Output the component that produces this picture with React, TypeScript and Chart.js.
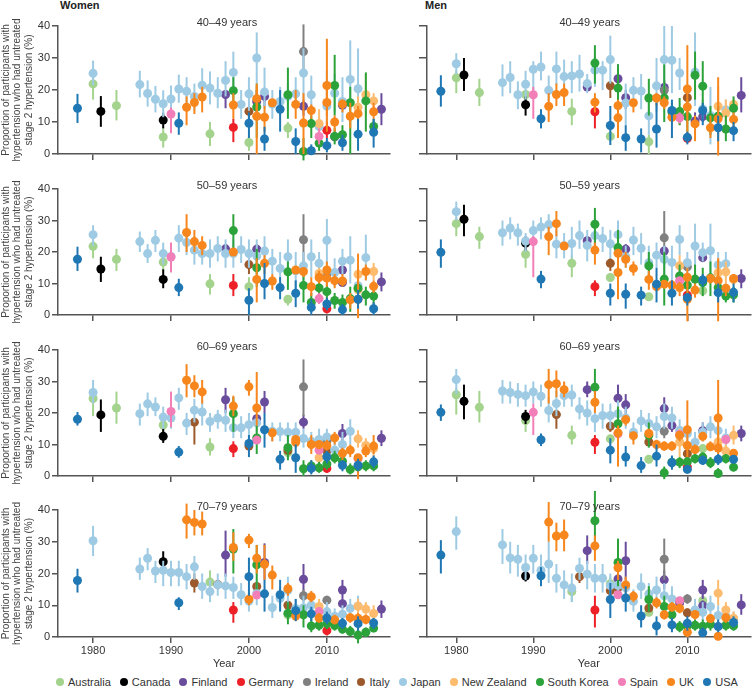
import React, { useEffect, useRef } from 'react';
import { Chart, registerables } from 'chart.js';
Chart.register(...registerables);

type Row = [string, number, number, number, number]; // country, year, value, lower, upper

const COUNTRIES = ['Australia', 'Canada', 'Finland', 'Germany', 'Ireland', 'Italy', 'Japan', 'New Zealand', 'South Korea', 'Spain', 'UK', 'USA'];
const CODES = ['AU', 'CA', 'FI', 'DE', 'IE', 'IT', 'JP', 'NZ', 'KR', 'ES', 'UK', 'US'];
const COLORS = ['#a4d38e', '#000000', '#6a4c9c', '#ee2027', '#808080', '#9c5a2c', '#9ecbe3', '#fdbb6e', '#2ca33a', '#f27fb8', '#f7861d', '#1f77b4'];
const Y_TICKS = [0, 10, 20, 30, 40];
const X_TICKS = [1980, 1990, 2000, 2010];
const AGE_GROUPS = ['40–49 years', '50–59 years', '60–69 years', '70–79 years'];
const Y_TITLE = ['Proportion of participants with', 'hypertension who had untreated', 'stage 2 hypertension (%)'];

const W40: Row[] = [
  ['US',1978,14.3,9.7,18.8],['JP',1980,25.2,21.5,29.2],['AU',1980,21.9,17,24],['CA',1981,13.3,8.5,18.1],['AU',1983,15.1,10.5,20],
  ['JP',1986,21.7,17.7,26],['JP',1987,18.9,14.8,23],['JP',1988,17.1,13,21.3],['JP',1989,15.7,11.5,19.9],['CA',1989,10.6,8,12.9],
  ['AU',1989,5.3,2,8],['JP',1990,17.2,13,21.4],['ES',1990,12.5,6.5,14.5],['US',1991,9.6,6,13],['JP',1991,20.3,16,24.8],
  ['JP',1992,19.6,15,24],['UK',1992,14.6,9,18],['JP',1993,18,13.6,22],['UK',1993,16.1,12.5,19],['JP',1994,21.5,16.7,26.8],
  ['UK',1994,17.8,13,21],['JP',1995,20.6,15.5,25.8],['AU',1995,6.3,2.5,10],['JP',1996,19,14.3,24],['FI',1997,18.6,14.3,20],
  ['JP',1997,23,18,29],['JP',1998,25.5,19,32],['KR',1998,19.8,16,24],['UK',1998,15.3,11,19],['DE',1998,8.3,3.7,11],
  ['JP',1999,15.5,11,20],['JP',2000,18.8,13.5,24],['US',2000,9.6,5,13],['AU',2000,3.6,1,6],['IT',2000,13.3,11,15],
  ['JP',2001,30,22,38],['FI',2001,16.4,13,20],['UK',2001,17.3,13,22],['UK',2001,11.8,0,21],['KR',2001,14.7,5,22],
  ['JP',2002,19.4,14,27],['FI',2002,18,15,20],['UK',2002,11.5,7,15],['US',2002,4.7,1,8.5],['JP',2003,15.6,11,20],
  ['UK',2003,16,15,16.5],['JP',2004,16.4,12,21],['US',2004,14,7,20],['KR',2005,18.5,11,27],['AU',2005,8.1,5,10],
  ['JP',2005,18,14,22],['JP',2006,18.8,14,24],['UK',2006,15.5,11,20],['US',2006,3.9,0,8],['IE',2007,32,25,40.5],
  ['JP',2007,25.3,17,33],['FI',2007,14.9,12,17],['UK',2007,9.7,0,19],['KR',2007,0.8,-2,5],['JP',2008,18.5,13,24.5],
  ['UK',2008,13.6,11,15.5],['KR',2008,9.5,5,12],['US',2008,1,0,3],['NZ',2009,9.5,4,14],['JP',2009,8.6,6,12],
  ['ES',2009,5.5,3,8],['KR',2009,3.4,1,6],['UK',2010,21.4,7,36],['UK',2010,16.1,12,20],['JP',2010,15,10,26],
  ['DE',2010,7.4,5,10],['US',2010,2.6,0.5,5],['KR',2011,21.4,12,31],['JP',2011,19,13,25],['UK',2011,10,7,12],
  ['KR',2011,5.5,3,8],['FI',2011,5.4,4,7],['JP',2012,16.4,10,24],['UK',2012,15.6,13,17],['FI',2012,15.2,14,16.5],
  ['US',2012,3.5,1,6],['KR',2012,6,3,9],['JP',2013,23.3,14,35.5],['KR',2013,16,0,21],['UK',2013,11.8,8,16],
  ['JP',2014,20.4,13,33],['NZ',2014,14.6,11,18],['UK',2014,12.6,10,15],['US',2014,6.2,1,11],['NZ',2015,18.5,12,25],
  ['KR',2015,16.6,7,25.5],['KR',2016,8.6,6,11],['UK',2016,13.2,11,16],['NZ',2016,16.6,14,19],['US',2016,6.8,2,11],
  ['FI',2017,14,9,19],
];

const M40: Row[] = [
  ['US',1978,19.6,14.8,24.6],['JP',1980,28.2,25,31.5],['AU',1980,23.8,19,26],['CA',1981,24.7,19.7,30],['AU',1983,19.2,15,23.5],
  ['JP',1986,22.3,18,28],['JP',1987,23.9,19,29],['JP',1988,18.5,14,22.7],['JP',1989,21.8,17,26],['AU',1989,18.6,16,20],
  ['CA',1989,15.4,12,18],['ES',1990,18.5,11,21],['JP',1990,26.5,20,29],['JP',1991,27.2,23,32],['US',1991,11,8,14],
  ['JP',1992,19.9,16.5,24.5],['UK',1992,14.9,10,19],['JP',1993,26.6,21.5,32],['UK',1993,18.6,15,22],['JP',1994,24.2,19,29.5],
  ['UK',1994,19.2,15,22],['JP',1995,24.4,19,29],['AU',1995,13.3,9,17.3],['JP',1996,25,19.5,31],['FI',1997,20.9,20,22],
  ['JP',1997,22,19,25],['KR',1998,28.4,22,34],['JP',1998,26.2,21,31],['UK',1998,16.2,13,19],['DE',1998,13.2,8,16],
  ['JP',1999,26.2,20,29],['JP',2000,29.5,22,37],['IT',2000,21.3,17.5,22],['US',2000,8.9,2.8,15],['AU',2000,5.5,4,7],
  ['FI',2001,23.5,20,28],['KR',2001,20.6,14,28],['UK',2001,15.1,10,17],['UK',2001,11.3,5,16],['FI',2002,17.6,14,20],
  ['JP',2002,15.9,9,22],['US',2002,5.1,1,9],['UK',2003,16,13,17],['JP',2003,19.9,15,24],['JP',2004,19.7,14,25],
  ['US',2004,4.7,0.5,8],['AU',2005,3.8,0,6],['KR',2005,17.5,12,23.5],['JP',2005,11.9,6,17.5],['UK',2006,17.5,15,19],
  ['JP',2006,21.3,13,30],['US',2006,7.8,2,16],['FI',2007,20.8,18,23],['IE',2007,19.9,17,22.5],['KR',2007,17.5,10,28],
  ['UK',2007,16,14,18],['JP',2007,29.5,20,40],['JP',2008,29.3,19,40],['US',2008,13.6,5,17],['KR',2008,13.1,10,16],
  ['UK',2008,11.5,10,13],['JP',2009,25.3,20,30],['KR',2009,13.3,9,17.5],['NZ',2009,12,9,14],['ES',2009,11.3,9.5,13],
  ['UK',2010,20.3,6,34],['IT',2010,17.6,16,19],['UK',2010,14.7,12,17],['KR',2010,11.7,7,16],['DE',2010,4.9,3.5,6],
  ['US',2010,5.2,3,7],['KR',2011,24.6,17,32],['JP',2011,25.6,15,38],['FI',2011,10.3,8,13],['UK',2011,9.4,4,12],
  ['KR',2012,21.2,15,29],['JP',2012,14.1,11,17],['US',2012,13.6,9,16],['FI',2012,11.7,10,13],['JP',2013,12,3,21],
  ['KR',2013,11.3,6,15],['UK',2013,8.2,5,12],['JP',2014,11.8,6,16],['NZ',2014,14.9,9,21],['KR',2014,11.8,8,15],
  ['US',2014,8.2,4,12],['UK',2014,11,-0.5,24],['NZ',2015,12.8,9,17],['JP',2015,13.8,10,17],['KR',2015,7.8,4,12],
  ['NZ',2016,15.5,13,17],['KR',2016,14.3,10,18],['UK',2016,10.8,8,13],['US',2016,7.3,4,10],['FI',2017,18.3,13,24],
];

const W50: Row[] = [
  ['US',1978,17.7,14,21.7],['JP',1980,25.5,22,28.5],['AU',1980,21.8,18,23],['CA',1981,14.6,10.5,18.5],['AU',1983,17.7,14,21],
  ['JP',1986,23.3,20,26.5],['JP',1987,19.5,16.5,22.5],['JP',1988,23.7,20,27],['JP',1989,19.5,16,23],['AU',1989,16.8,14,19],
  ['CA',1989,11.3,8.5,14.5],['ES',1990,18.4,13.5,23],['JP',1990,18.6,15,22],['US',1991,8.7,6,11.5],['JP',1991,24.4,20,28.5],
  ['UK',1992,26.2,20,32],['JP',1992,23,19,27.5],['UK',1993,23.3,20,27],['JP',1993,20.6,16,25],['UK',1994,22.1,19,25],
  ['JP',1994,19.5,16,23],['JP',1995,19.5,15,24],['AU',1995,9.9,6.5,13],['JP',1996,21.1,17,25],['FI',1997,21,19.5,22.5],
  ['JP',1997,19.5,15,24],['KR',1998,26.8,20,32],['UK',1998,20,19.5,20.5],['JP',1998,19.5,15,24],['DE',1998,9.4,6,13],
  ['JP',1999,20.8,16.5,25],['JP',2000,19.5,15,24],['IT',2000,16,13,17],['AU',2000,9,6,12],['US',2000,4.7,0,8.5],
  ['FI',2001,20.9,19,22.5],['JP',2001,18.7,13,24],['KR',2001,15,9,21],['UK',2001,11.3,4,18],['JP',2002,20.3,15,25],
  ['UK',2002,16.4,13,19],['US',2002,10,5,16.5],['JP',2003,17.1,13,21],['UK',2003,10.8,8,13],['JP',2004,14.8,9,20],
  ['US',2004,8.7,5,12],['JP',2005,18.5,13,24],['KR',2005,13.7,8,17],['AU',2005,5,3,6],['JP',2006,14,8,20],
  ['UK',2006,14.3,13,15.5],['US',2006,6.9,2.5,11],['IE',2007,23.9,16,32],['JP',2007,15.6,11,20],['UK',2007,13.8,12,15],
  ['KR',2007,9.4,4,14],['JP',2008,18.5,12,24],['UK',2008,9,6,12],['KR',2008,4,1,7],['US',2008,2.4,0,5],
  ['JP',2009,16.4,12,20],['NZ',2009,13.2,11,15],['UK',2009,11.9,10,14],['KR',2009,8.6,5,12],['ES',2009,5.2,3.5,7],
  ['JP',2010,23.7,16,30.5],['UK',2010,14.3,12,17],['IE',2010,12.9,11,14.5],['UK',2010,11.7,9,14],['KR',2010,7.4,4.5,10],
  ['US',2010,3.5,1.5,5.5],['DE',2010,2,0.5,3.5],['JP',2011,13.5,9,18],['UK',2011,10.9,8.5,13],['KR',2011,4.6,2,7],
  ['FI',2012,14.3,13,15.5],['JP',2012,17.1,13,21],['UK',2012,10.8,9,13],['FI',2012,10.3,9,11.5],['KR',2012,4,1.5,6.5],
  ['US',2012,1.7,0,3.5],['JP',2013,17.4,10,25],['KR',2013,5.2,1,9],['UK',2013,4.8,2,7],['NZ',2014,12.9,10,15.5],
  ['JP',2014,9.3,6,12],['NZ',2014,8,6,10],['UK',2014,5,-1,19.5],['KR',2014,8.5,6,11],['US',2014,5,2,8],
  ['JP',2015,18.2,11,25.5],['UK',2015,13.8,11,16],['KR',2015,6.4,3,9],['NZ',2016,13.8,11,16.5],['UK',2016,9.1,7,11],
  ['KR',2016,6,3,9],['US',2016,2,0,4],['FI',2017,10.5,7.5,13.5],
];

const M50: Row[] = [
  ['US',1978,19.9,15,24],['JP',1980,32.8,30,36],['AU',1980,29,25,31],['CA',1981,30.4,25,35],['AU',1983,24.9,21,28],
  ['JP',1986,26.1,22,30],['JP',1987,27.6,24,31],['JP',1988,26.1,22,29],['CA',1989,22.8,20.5,25],['JP',1989,23.5,20,26],
  ['AU',1989,19.3,15,22],['ES',1990,23.3,12,25],['JP',1990,26.8,23,30],['JP',1991,27.9,24,31],['US',1991,11.4,8.5,14],
  ['JP',1992,28.7,25,32],['UK',1992,24.9,19,28],['UK',1993,29,25,33],['JP',1993,22.5,18,27],['JP',1994,22,18,26],
  ['UK',1994,21.9,21,22.5],['JP',1995,22.7,18,28],['AU',1995,16.4,12,19],['JP',1996,25.2,21,30],['FI',1997,23.6,22,25],
  ['JP',1997,22.1,17,27],['KR',1998,28.8,22,34],['JP',1998,25.2,20,30],['UK',1998,20.6,16,23],['DE',1998,9,6,11],
  ['JP',1999,24.3,20,28],['JP',2000,22.6,18,27],['IT',2000,16.4,14,18],['AU',2000,11.9,10.5,13],['US',2000,6.9,3,10],
  ['JP',2001,25.5,20,30],['KR',2001,21.4,15,27],['UK',2001,19.6,17,21],['UK',2001,13.5,5,18],['FI',2002,20.9,19,22.5],
  ['JP',2002,18.5,15,22],['UK',2002,17.7,15,20],['US',2002,6.6,2,10],['JP',2003,23.8,19,28],['UK',2003,14.8,12.5,17],
  ['JP',2004,21.2,16,26],['US',2004,6.3,3,9],['JP',2005,16.6,12,22],['KR',2005,15.6,11,20],['UK',2005,11.3,8,14],
  ['AU',2005,5.8,4.5,7],['JP',2006,19,15,23],['US',2006,9.8,4,15],['UK',2006,9,7.5,10.5],['IE',2007,24.5,16,33],
  ['FI',2007,20.3,18.5,22],['JP',2007,17.7,13,22],['KR',2007,11.4,3,20],['UK',2007,9.8,8.5,11],['JP',2008,16.7,11,22],
  ['UK',2008,9.5,8,11],['US',2008,6.9,3,11],['JP',2009,24,19,28.5],['NZ',2009,15.6,8,19],['KR',2009,12.4,8,16],
  ['ES',2009,10.9,9,12],['UK',2009,8.7,6,10.5],['JP',2010,16.6,13,20],['IE',2010,15.3,14,16.5],['UK',2010,12,9,15],
  ['KR',2010,9.5,6,13],['DE',2010,6.3,5,8],['UK',2010,5,-2,10],['US',2010,5.5,3,7],['JP',2011,21.9,15,29],
  ['KR',2011,11.4,7,16],['UK',2011,7.9,5.5,10],['JP',2012,19.8,17,23],['FI',2012,18.2,17,19.5],['US',2012,11.1,9,13],
  ['KR',2012,10.3,6,15],['AU',2012,7.7,6,9],['JP',2013,20.4,13,29],['KR',2013,11.8,6,17],['UK',2013,11.6,10,13],
  ['JP',2014,15.9,12,20],['NZ',2014,13.4,9,18],['UK',2014,10.9,-2,18],['KR',2014,8.7,6,11],['US',2014,7.1,4,10],
  ['JP',2015,16.3,12,20],['NZ',2015,13.7,10,17],['UK',2015,8.5,6,10],['KR',2015,6,4,8],['NZ',2016,11.3,9.5,13],
  ['UK',2016,11.6,10,13],['US',2016,7.2,4,10],['KR',2016,6.4,4,9],['FI',2017,11.6,8.5,14.5],
];

const W60: Row[] = [
  ['US',1978,18,16,20.3],['JP',1980,26.5,23,30.5],['AU',1980,24.6,19,27],['CA',1981,19.4,14,24.3],['AU',1983,21.6,16.6,26.8],
  ['JP',1986,19.8,16,23],['JP',1987,22.9,19,26.5],['JP',1988,21.9,19,25],['JP',1989,18.7,15,22],['AU',1989,16.2,14,18],
  ['CA',1989,12.6,10.5,15],['ES',1990,20.5,15.5,26.8],['JP',1990,18.4,15,21],['US',1991,7.6,5.8,9.5],['JP',1991,24.8,21,28],
  ['UK',1992,30.4,25,35.5],['JP',1992,16.8,13,20],['UK',1993,28.6,25,32],['JP',1993,20.9,17,24.5],['IT',1993,17.1,10,18],
  ['UK',1994,26.7,23,30.5],['JP',1994,20.3,16,24],['JP',1995,17.3,14,20],['AU',1995,9.2,6.5,12],['JP',1996,18.4,15,21],
  ['FI',1997,24.2,20,28],['JP',1997,17.7,14,21],['UK',1998,22.2,19,25.5],['KR',1998,19.8,14,25],['JP',1998,15.3,12,19],
  ['DE',1998,8.7,6,11],['JP',1999,15.3,12,19],['UK',2000,28.3,25.5,30.5],['JP',2000,16.3,12,20],['US',2000,10.3,6,13],
  ['IT',2000,9.5,8,11],['UK',2001,21.6,16,33],['FI',2001,18.2,17,19],['JP',2001,16.9,14,19],['KR',2001,12.1,7,16],
  ['ES',2001,11.4,10.5,12],['FI',2002,23.5,20,27],['US',2002,14.7,9,20],['UK',2003,13.7,11,15],['JP',2003,14.2,11,17],
  ['JP',2004,14.1,11,17],['US',2004,5.3,2,8],['JP',2005,13.9,11,17],['KR',2005,9,5,13],['IT',2005,8.1,7,9.5],
  ['AU',2005,7.4,6,9],['JP',2006,13.9,10,17],['UK',2006,11.6,10,13],['UK',2006,10.7,9,12],['US',2006,5.8,1,10],
  ['IE',2007,28.3,19,37],['FI',2007,17.1,15,19.5],['JP',2007,11.9,9,15],['KR',2007,2.3,0,5],['JP',2008,11,8,14],
  ['UK',2008,10,7,13],['KR',2008,3.2,1,5],['US',2008,2.4,0.5,5],['JP',2009,11.6,8,15],['UK',2009,10,8.5,11],
  ['ES',2009,8.2,7,9.5],['NZ',2009,5.8,3,9],['KR',2009,2.6,1,4.5],['JP',2010,12.4,9,15],['IE',2010,11,10,12],
  ['UK',2010,9.7,8,11.5],['IT',2010,7.9,7,9],['US',2010,6.1,4,8],['KR',2010,3.8,2,6],['DE',2010,2.4,1,4],
  ['UK',2011,12.1,10,14],['JP',2011,8.2,5,11],['KR',2011,5.8,4,8],['FI',2012,13.5,11,16.5],['JP',2012,10,6,14],
  ['UK',2012,7.2,5,9],['KR',2012,4.7,3,6.5],['US',2012,3.4,1.5,5],['JP',2013,14.2,10,18],['UK',2013,8.2,6,10],
  ['KR',2013,2.1,0.5,4],['NZ',2014,11.8,9,14.5],['UK',2014,5.8,-1,7],['ES',2014,5.5,4.5,6.5],['US',2014,3.4,1.5,5.5],
  ['KR',2014,2.9,1,5],['NZ',2015,9.7,7,12],['UK',2015,7.9,6,10],['KR',2015,3.2,1.5,5],['NZ',2016,8.7,6,11],
  ['UK',2016,9.5,7,13],['US',2016,4.5,2.5,6.5],['KR',2016,3.2,1.5,5],['FI',2017,12,9.5,14.5],
];

const M60: Row[] = [
  ['US',1978,20.2,17.5,22.7],['JP',1980,30.6,26,34],['AU',1980,25.8,19.5,28],['CA',1981,23.7,18,29],['AU',1983,21.8,17,27],
  ['JP',1986,27,23,30.5],['JP',1987,26.5,23,30],['JP',1988,25.9,22,29.5],['JP',1989,25.5,22,29],['CA',1989,18.9,16.5,21],
  ['AU',1989,17.6,14,20],['JP',1990,26.7,23,30],['ES',1990,20.2,13,23],['JP',1991,25.3,22,29],['US',1991,11.5,9.5,13.5],
  ['UK',1992,29,23,34],['JP',1992,20.8,17,25],['UK',1993,29.3,25,33.5],['JP',1993,23,19,27],['IT',1993,19.5,15,21],
  ['UK',1994,27.4,25,30],['JP',1994,25.5,22,29],['JP',1995,25.7,22,29],['AU',1995,12.9,10,16],['JP',1996,21.3,18,25],
  ['FI',1997,27.4,25,30],['JP',1997,20,16,24],['KR',1998,28.2,22,34],['UK',1998,23.4,20,27],['JP',1998,18.2,14,22],
  ['DE',1998,10.7,7,13],['JP',1999,19.2,15,23],['JP',2000,19.2,15,23],['IT',2000,15.8,14,17],['AU',2000,11.8,10,13],
  ['US',2000,8.2,4,12],['FI',2001,24.7,21,29],['JP',2001,19.8,15,24],['KR',2001,16.6,11,22],['UK',2001,13.7,3,16],
  ['ES',2001,13.4,12,15],['FI',2002,22.6,19,26],['JP',2002,18.4,15,22],['UK',2002,17.9,16,19],['US',2002,6,3,9.5],
  ['JP',2003,13.9,11,17],['UK',2003,12.8,10,14],['JP',2004,17.5,14,21],['US',2004,3.3,1,6],['JP',2005,16.7,13,20],
  ['KR',2005,12.9,9,17],['UK',2005,13.5,12,15],['IT',2005,10.8,9.5,12],['AU',2005,5.3,4,6.5],['JP',2006,15.6,12,19],
  ['UK',2006,10,8.5,11.5],['US',2006,6.3,3,10],['FI',2007,21.4,18,25],['JP',2007,18.9,15,23],['IE',2007,14.2,12,16],
  ['UK',2007,9.5,8,11],['KR',2007,1,-1,3],['JP',2008,18.4,15,22],['FI',2008,16,14,18],['UK',2008,9.5,8,11],
  ['US',2008,4.2,2,6.5],['KR',2008,4.4,2.5,6],['JP',2009,14.5,11,18],['ES',2009,13.2,12,14.5],['UK',2009,12.9,11,14],
  ['NZ',2009,10.8,6,15],['KR',2009,4.4,2.5,6],['UK',2010,14.7,6,24],['JP',2010,13.5,11,16],['UK',2010,9.7,8.5,11],
  ['IT',2010,7.1,6,8.5],['KR',2010,4.5,3,6],['DE',2010,2.9,2,4],['US',2010,2.1,1,3.5],['JP',2011,10.7,7,14],
  ['UK',2011,8.4,7,10],['KR',2011,5.5,4,7],['FI',2012,14.4,12,17],['JP',2012,13.9,11,17],['UK',2012,12.6,11,14],
  ['AU',2012,8.7,7.5,10],['KR',2012,6,4.5,7.5],['US',2012,5,3.5,6.5],['JP',2013,15.6,12,19],['UK',2013,9.3,8,11],
  ['KR',2013,4.2,2.5,6],['UK',2014,18.4,6,30.5],['JP',2014,14.4,11,18],['NZ',2014,10.8,8,14],['UK',2014,8.9,7.5,10.5],
  ['US',2014,5.3,3.5,7],['KR',2014,0.8,-0.5,2.5],['JP',2015,12.1,9,15],['ES',2015,11.6,10.5,12.5],['NZ',2015,7.9,6,10],
  ['KR',2015,5.5,4,7],['NZ',2016,12.9,10,16],['UK',2016,7.2,6,8.5],['US',2016,5.3,4,6.5],['KR',2016,2.8,1.5,4],
  ['FI',2017,13.5,11,16],
];

const W70: Row[] = [
  ['US',1978,17.8,14,21.5],['JP',1980,30.3,25.5,35],['JP',1986,21.4,18,25],['JP',1987,24.8,21,28],['JP',1988,20.8,17,24],
  ['JP',1989,21,16,24],['CA',1989,23.7,21,27],['JP',1990,20.3,16,24],['JP',1991,20.3,16,24],['US',1991,10.8,8.5,12.5],
  ['JP',1992,19,15,23],['UK',1992,36.9,31,42],['UK',1993,36.1,32,40],['JP',1993,22.1,18,25.5],['IT',1993,17,14,20],
  ['UK',1994,35.6,32,39.5],['JP',1994,15.9,12,20],['AU',1995,17.3,11,21],['JP',1995,14.3,11,18],['JP',1996,16.4,13,20],
  ['IT',1996,16.5,15,18],['FI',1997,25.8,19,33.5],['JP',1997,16.1,12,20],['UK',1998,28.2,24,33],['KR',1998,27.7,20,34],
  ['JP',1998,15.6,12,19],['DE',1998,8.5,4.5,11],['JP',1999,13.3,10,17],['UK',2000,30.5,28,32.5],['US',2000,19,13,25],
  ['UK',2000,11.9,10,14],['JP',2000,11.3,8,14],['UK',2001,24.8,20,29],['KR',2001,22.7,15,29],['IT',2001,15.9,14,17],
  ['JP',2001,13.7,10,17],['ES',2001,13.2,12,14.5],['FI',2002,23.5,18,29.5],['UK',2002,22.9,18,29],['US',2002,13.6,8,18],
  ['UK',2003,19.5,15,22.5],['JP',2003,9.3,6,13],['US',2004,13.3,8,18],['JP',2004,12.2,9,16],['JP',2005,14.7,10,19],
  ['UK',2005,15.2,13,17],['IT',2005,10,8.5,11.5],['KR',2005,7.5,4,11],['AU',2005,7,5.5,8.5],['JP',2006,9,6,12],
  ['US',2006,8.3,5,12],['UK',2006,6.6,5,8],['FI',2007,18.2,14,23],['IE',2007,13,11,15],['JP',2007,9.2,6,13],
  ['KR',2007,7,3,10],['UK',2008,12.7,11,14.5],['JP',2008,10,7,13],['US',2008,7.3,5,9.5],['KR',2008,3.5,1.5,6],
  ['NZ',2009,9.6,7,12],['ES',2009,8,7,9],['UK',2009,6,4.5,7.5],['KR',2009,3.7,2,6],['IE',2010,11.6,10,13],
  ['JP',2010,8,5,11],['US',2010,6,4,8],['KR',2010,4.2,2.5,6],['DE',2010,2,0.5,3.5],['JP',2011,6.5,4,9],
  ['UK',2011,5.4,4,7],['KR',2011,3.6,2,5.5],['FI',2012,14.8,12,18],['FI',2012,10.5,9,12],['JP',2012,7.2,4,10],
  ['US',2012,4.3,2.5,6],['KR',2012,2.5,1,4],['JP',2013,9,6,12],['UK',2013,6.1,4.5,7.5],['KR',2013,1.7,0.5,3.5],
  ['JP',2014,9.8,6,13],['NZ',2014,9.7,7,12],['UK',2014,5.9,4,7.5],['US',2014,4.2,2,6.5],['KR',2014,0.6,-2,3],
  ['NZ',2015,8.8,6.5,11],['UK',2015,5.5,4,7],['KR',2015,1.5,0,3],['NZ',2016,7.4,5,10],['US',2016,4.4,2.5,6],
  ['KR',2016,2.8,1.5,4.5],['FI',2017,8.8,6,11.5],
];

const M70: Row[] = [
  ['US',1978,25.8,20,30.5],['JP',1980,33.2,27.5,38],['JP',1986,29,23,34],['JP',1987,24.9,20,30],['JP',1988,24.5,19,29],
  ['JP',1989,21.9,18,26],['CA',1989,19.2,17.5,21],['JP',1990,24.8,20,29],['JP',1991,21,17,26],['US',1991,19.3,16,22],
  ['UK',1992,36.2,30,42.5],['JP',1992,23,17,30],['UK',1993,31.8,27,36],['JP',1993,18.5,14,23],['UK',1994,32.1,27,37],
  ['JP',1994,16.4,12,21],['JP',1995,15.4,11,20],['AU',1995,14.3,11,17],['JP',1996,21.6,18,25],['IT',1996,19,17,21],
  ['FI',1997,27.2,23,32],['JP',1997,19.8,15,24],['KR',1998,36.6,28,46],['UK',1998,28.7,24,32],['JP',1998,18.5,14,23],
  ['DE',1998,8.5,3,13],['JP',1999,18.5,14,23],['AU',2000,16.8,14,19],['JP',2000,16.2,12,20],['IT',2000,14.6,13,16],
  ['US',2000,11.8,6,17],['KR',2001,23.5,16,31],['UK',2001,21.8,18,24],['FI',2001,18.3,15,22],['JP',2001,16.3,12,20],
  ['IT',2001,15.5,14,17],['ES',2001,13.3,12,14.5],['FI',2002,24,18,30],['UK',2002,16.4,14,19],['JP',2002,15.5,12,19],
  ['US',2002,12.3,8,16],['UK',2003,12.8,11,14.5],['JP',2003,11.2,8,15],['JP',2004,15.9,12,20],['US',2004,6.6,3,10],
  ['JP',2005,13.6,10,17],['KR',2005,11.8,8,16],['IT',2005,9.1,8,10.5],['AU',2005,7.8,6.5,9],['JP',2006,14.8,11,19],
  ['UK',2006,10.8,9,12.5],['US',2006,3.5,0.5,6.5],['IE',2007,24.5,18,31],['FI',2007,18,15,21],['JP',2007,13,9,17],
  ['KR',2007,9.6,6,13],['UK',2007,7,5.5,8.5],['JP',2008,12,8,16],['UK',2008,9.4,8,11],['KR',2008,7,4,10],
  ['US',2008,3.8,1.5,6],['ES',2009,11.4,10,12.5],['FI',2009,10.8,9,12.5],['UK',2009,9,7.5,10.5],['KR',2009,3.2,1.5,5],
  ['IE',2010,12,10.5,13.5],['IT',2010,7.6,6.5,9],['US',2010,4.3,2,6.5],['KR',2010,3.5,2,5],['UK',2010,1.5,0,4],
  ['JP',2011,8.5,5,12],['UK',2011,7.1,5.5,8.5],['KR',2011,3.7,2,5.5],['FI',2012,14.8,12,18],['AU',2012,11.4,10,13],
  ['FI',2012,9.9,8.5,11.5],['JP',2012,7.8,5,11],['KR',2012,3.4,1.5,5.5],['US',2012,1.3,0,3],['JP',2013,9.6,6,13],
  ['UK',2013,5.8,4.5,7],['KR',2013,4,2,6],['NZ',2014,13.8,10,18],['JP',2014,6.8,4,10],['US',2014,3.3,1.5,5.5],
  ['UK',2014,0.2,-1,1.5],['NZ',2015,8.5,6,11],['JP',2015,6.6,4,9.5],['UK',2015,6.1,4.5,7.5],['KR',2015,3.7,2,5.5],
  ['NZ',2016,5.9,4,8],['JP',2016,5.6,3,8],['US',2016,4.6,3,6.5],['KR',2016,3.5,2,5],['FI',2017,10.1,7,13.5],
];

const WOMEN_PANELS = [W40, W50, W60, W70];
const MEN_PANELS = [M40, M50, M60, M70];

// layout (pixels)
const FONT = "'Liberation Sans', Arial, sans-serif";
const AXIS_COLOR = '#555555';
const TEXT_COLOR = '#333333';
const ROW_BOUNDS = [[26, 154], [189, 315], [350, 476], [510, 637]];
const TITLE_SPACE = 26;

const errorBarPlugin = {
  id: 'errorBars',
  beforeDatasetDraw(chart: any, args: any) {
    const ds = chart.data.datasets[args.index];
    const ys = chart.scales.y;
    const ctx = chart.ctx;
    ctx.save();
    ctx.strokeStyle = ds.borderColor;
    ctx.lineWidth = 2;
    ctx.lineCap = 'butt';
    args.meta.data.forEach((pt: any, i: number) => {
      const e = ds.errors[i];
      ctx.beginPath();
      ctx.moveTo(pt.x, ys.getPixelForValue(e[0]));
      ctx.lineTo(pt.x, ys.getPixelForValue(e[1]));
      ctx.stroke();
    });
    ctx.restore();
  },
};

type PanelProps = { rows: Row[]; title: string; women: boolean; rowIdx: number };

function Panel({ rows, title, women, rowIdx }: PanelProps) {
  const ref = useRef<HTMLCanvasElement>(null);
  const [t, b] = ROW_BOUNDS[rowIdx];
  const last = rowIdx === 3;
  const xAxisH = last ? 34 : 10;
  const left = women ? 0 : 396;
  const width = women ? 396 : 359;
  const top = t - TITLE_SPACE;
  const height = TITLE_SPACE + (b - t) + xAxisH;

  useEffect(() => {
    const n = CODES.length;
    const datasets = CODES.map((code, i) => {
      const pts = rows.filter((r) => r[0] === code);
      return {
        label: COUNTRIES[i],
        data: pts.map((r) => ({ x: r[1], y: r[2] })),
        errors: pts.map((r) => [r[3], r[4]]),
        backgroundColor: COLORS[i],
        borderColor: COLORS[i],
        pointRadius: 4.5,
        pointHoverRadius: 4.5,
        pointBorderWidth: 0,
        showLine: false,
        clip: false as any,
        order: n - i,
      };
    });

    const titlePlugin = {
      id: 'panelTitle',
      afterDraw(chart: any) {
        const { ctx, chartArea } = chart;
        ctx.save();
        ctx.font = `11px ${FONT}`;
        ctx.fillStyle = TEXT_COLOR;
        ctx.textAlign = 'center';
        ctx.textBaseline = 'middle';
        ctx.fillText(title, (chartArea.left + chartArea.right) / 2 + (women ? 3 : 1), chartArea.top - 3);
        ctx.restore();
      },
    };

    const chart = new Chart(ref.current as HTMLCanvasElement, {
      type: 'scatter',
      data: { datasets: datasets as any },
      options: {
        animation: false,
        responsive: false,
        maintainAspectRatio: false,
        layout: { padding: { top: TITLE_SPACE, right: women ? 6 : 0, bottom: 0, left: 0 } },
        plugins: { legend: { display: false }, tooltip: { enabled: false } },
        scales: {
          x: {
            type: 'linear',
            min: women ? 1975.5 : 1976.2,
            max: women ? 2018.1 : 2018.2,
            afterBuildTicks: (s: any) => { s.ticks = X_TICKS.map((v) => ({ value: v })); },
            afterFit: (s: any) => { s.height = xAxisH; },
            ticks: {
              display: last,
              autoSkip: false,
              maxRotation: 0,
              padding: 1,
              color: TEXT_COLOR,
              font: { family: FONT, size: 11 },
              callback: (v: any) => String(v),
            },
            grid: { display: true, drawOnChartArea: false, drawTicks: true, tickLength: 6, color: AXIS_COLOR, lineWidth: 1.5 },
            border: { display: true, color: AXIS_COLOR, width: 1.5 },
            title: { display: last, text: 'Year', color: TEXT_COLOR, font: { family: FONT, size: 11 }, padding: 0 },
          },
          y: {
            type: 'linear',
            min: 0,
            max: 40,
            afterBuildTicks: (s: any) => { s.ticks = Y_TICKS.map((v) => ({ value: v })); },
            afterFit: (s: any) => { s.width = women ? 58 : 31; },
            ticks: {
              display: women,
              padding: 2,
              color: TEXT_COLOR,
              font: { family: FONT, size: 11 },
              callback: (v: any) => String(v),
            },
            grid: { display: true, drawOnChartArea: false, drawTicks: true, tickLength: women ? 6 : 8, color: AXIS_COLOR, lineWidth: 1.5 },
            border: { display: true, color: AXIS_COLOR, width: 1.5 },
            title: {
              display: women,
              text: Y_TITLE,
              color: '#444444',
              font: { family: FONT, size: 10, lineHeight: 1.15 },
              padding: 0,
            },
          },
        },
      } as any,
      plugins: [errorBarPlugin as any, titlePlugin as any],
    });
    return () => chart.destroy();
  }, []);

  return (
    <canvas
      ref={ref}
      width={width}
      height={height}
      style={{ position: 'absolute', left, top, width, height }}
    />
  );
}

export default function App() {
  return (
    <div style={{ position: 'absolute', left: 0, top: 0, width: 755, height: 689, background: '#fff', fontFamily: FONT, overflow: 'hidden' }}>
      <div style={{ position: 'absolute', left: 60, top: -1, fontSize: 11, fontWeight: 'bold', color: '#222', lineHeight: '13px' }}>Women</div>
      <div style={{ position: 'absolute', left: 425, top: -1, fontSize: 11, fontWeight: 'bold', color: '#222', lineHeight: '13px' }}>Men</div>
      {WOMEN_PANELS.map((rows, i) => (
        <Panel key={'w' + i} rows={rows} title={AGE_GROUPS[i]} women={true} rowIdx={i} />
      ))}
      {MEN_PANELS.map((rows, i) => (
        <Panel key={'m' + i} rows={rows} title={AGE_GROUPS[i]} women={false} rowIdx={i} />
      ))}
      <div style={{ position: 'absolute', left: 56, top: 675, width: 682, height: 14, display: 'flex', justifyContent: 'space-between', alignItems: 'center', fontSize: 11, color: TEXT_COLOR }}>
        {COUNTRIES.map((c, i) => (
          <div key={c} style={{ display: 'flex', alignItems: 'center', whiteSpace: 'nowrap' }}>
            <span style={{ display: 'inline-block', width: 8, height: 8, borderRadius: 4, background: COLORS[i], marginRight: 4 }} />
            <span>{c}</span>
          </div>
        ))}
      </div>
    </div>
  );
}
